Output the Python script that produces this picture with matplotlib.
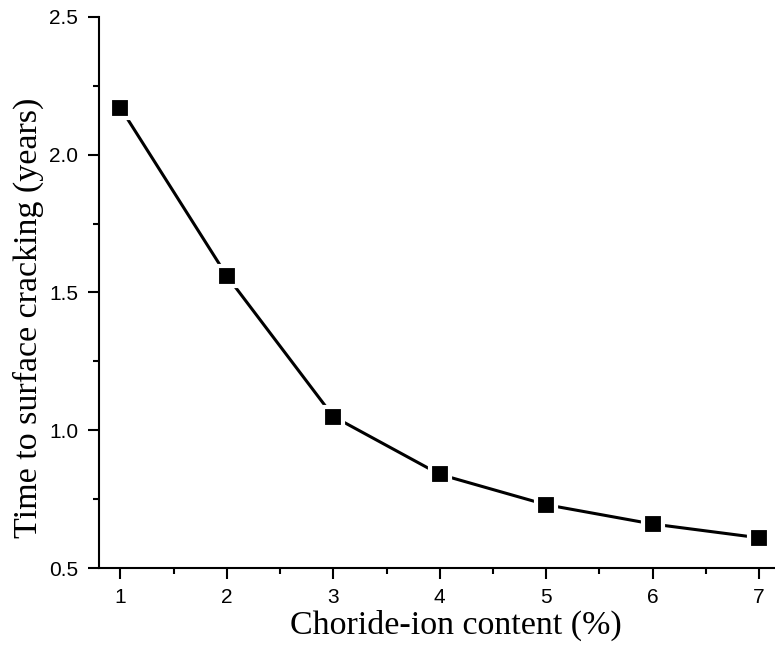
import numpy as np
import matplotlib.pyplot as plt
from matplotlib.ticker import MultipleLocator

# data
chloride = [1, 2, 3, 4, 5, 6, 7]
crack_time = [2.17, 1.56, 1.05, 0.84, 0.73, 0.66, 0.61]

plt.rcParams['font.family'] = 'Liberation Sans'

fig = plt.figure(figsize=(7.75, 6.5), dpi=100)
ax = fig.add_axes([0.128, 0.126, 0.872, 0.848])

ax.plot(chloride, crack_time, color='black', lw=2.2, marker='s',
        markersize=14, markerfacecolor='black', markeredgecolor='white',
        markeredgewidth=3)

ax.set_xlim(0.8, 7.15)
ax.set_ylim(0.5, 2.5)
ax.xaxis.set_major_locator(MultipleLocator(1))
ax.xaxis.set_minor_locator(MultipleLocator(0.5))
ax.yaxis.set_major_locator(MultipleLocator(0.5))
ax.yaxis.set_minor_locator(MultipleLocator(0.25))
ax.yaxis.set_major_formatter(plt.FormatStrFormatter('%.1f'))

for s in ['top', 'right']:
    ax.spines[s].set_visible(False)
for s in ['left', 'bottom']:
    ax.spines[s].set_linewidth(1.5)

ax.tick_params(which='major', direction='out', length=8, width=1.5,
               labelsize=15)
ax.tick_params(axis='x', which='major', pad=6)
ax.tick_params(axis='y', which='major', pad=7)
ax.tick_params(which='minor', direction='out', length=4.5, width=1.5)

ax.set_xlabel('Choride-ion content (%)', family='Liberation Serif',
              fontsize=24.5)
ax.set_ylabel('Time to surface cracking (years)', family='Liberation Serif',
              fontsize=24.5)
ax.xaxis.set_label_coords(0.528, -0.075)
ax.yaxis.set_label_coords(-0.081, 0.454)

fig.savefig('out.png')
